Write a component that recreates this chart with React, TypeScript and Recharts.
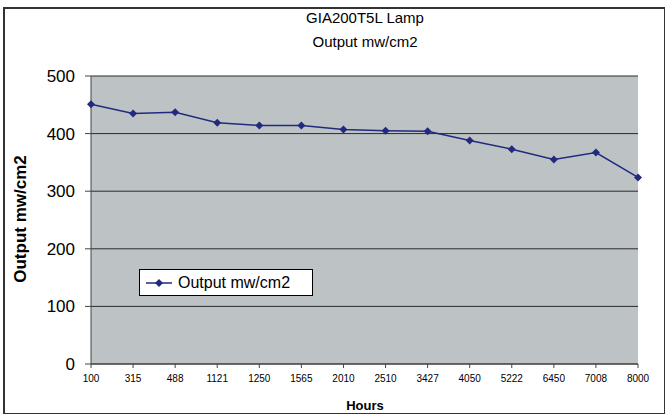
import React from 'react';
import { LineChart, Line, XAxis, YAxis, CartesianGrid, Legend } from 'recharts';

const hours = ['100', '315', '488', '1121', '1250', '1565', '2010', '2510', '3427', '4050', '5222', '6450', '7008', '8000'];
const output = [451, 435, 437, 419, 414, 414, 407, 405, 404, 388, 373, 355, 367, 324];
const yTicks = [0, 100, 200, 300, 400, 500];
const seriesName = 'Output mw/cm2';
const titleLines = ['GIA200T5L Lamp', 'Output mw/cm2'];
const xTitle = 'Hours';
const yTitle = 'Output mw/cm2';

const data = hours.map((h, i) => ({ hours: h, output: output[i] }));

const LINE = '#222a7e';
const FONT = '"Liberation Sans", Arial, sans-serif';

const Diamond = (props: any) => {
  const { cx, cy } = props;
  if (cx == null || cy == null) return null;
  const r = 4;
  return (
    <polygon
      key={`d-${cx}`}
      points={`${cx},${cy - r} ${cx + r},${cy} ${cx},${cy + r} ${cx - r},${cy}`}
      fill={LINE}
    />
  );
};

const LegendBox = () => (
  <div
    style={{
      position: 'absolute',
      left: 139,
      top: 269,
      width: 174,
      height: 27,
      border: '1px solid #000',
      background: '#fff',
      boxSizing: 'border-box',
      display: 'flex',
      alignItems: 'center',
      fontFamily: FONT,
      fontSize: 16,
      color: '#000',
    }}
  >
    <svg width={34} height={12} style={{ marginLeft: 4 }}>
      <line x1={2} y1={6} x2={28} y2={6} stroke={LINE} strokeWidth={1.5} />
      <polygon points="15,2 19,6 15,10 11,6" fill={LINE} />
    </svg>
    <span>{seriesName}</span>
  </div>
);

export default function App() {
  return (
    <div style={{ position: 'absolute', left: 0, top: 0, width: 669, height: 417, background: '#fff', fontFamily: FONT }}>
      <div
        style={{
          position: 'absolute',
          left: 3,
          top: 7,
          width: 662,
          height: 407,
          border: '1px solid #333',
          borderLeftWidth: 2,
          borderTopWidth: 2,
          boxSizing: 'border-box',
        }}
      />
      <LineChart width={669} height={417} data={data} margin={{ top: 76, right: 31, bottom: 23, left: 31 }}>
        <CartesianGrid vertical={false} stroke="#2a2a2a" fill="#bdc3c5" fillOpacity={1} />
        <XAxis
          dataKey="hours"
          height={30}
          tick={{ fontSize: 10, fill: '#000', fontFamily: FONT }}
          tickSize={4}
          tickMargin={7}
          interval={0}
          axisLine={{ stroke: '#444' }}
          tickLine={{ stroke: '#444' }}
        />
        <YAxis
          width={60}
          domain={[0, 500]}
          ticks={yTicks}
          tick={{ fontSize: 17, fill: '#000', fontFamily: FONT }}
          tickSize={6}
          tickMargin={10}
          axisLine={{ stroke: '#444' }}
          tickLine={{ stroke: '#444' }}
        />
        <Legend layout="horizontal" verticalAlign="middle" align="center" content={() => <LegendBox />} wrapperStyle={{ left: 0, top: 0, width: 0, height: 0 }} />
        <Line
          type="linear"
          dataKey="output"
          name={seriesName}
          stroke={LINE}
          strokeWidth={1.5}
          dot={<Diamond />}
          activeDot={false}
          isAnimationActive={false}
        />
      </LineChart>
      <div style={{ position: 'absolute', left: 365, top: 6, transform: 'translateX(-50%)', textAlign: 'center', fontSize: 15, lineHeight: '24px', whiteSpace: 'nowrap', color: '#000' }}>
        {titleLines.map((t) => (
          <div key={t}>{t}</div>
        ))}
      </div>
      <div style={{ position: 'absolute', left: 21, top: 219, transform: 'translate(-50%, -50%) rotate(-90deg)', fontSize: 17, fontWeight: 'bold', whiteSpace: 'nowrap', color: '#000' }}>
        {yTitle}
      </div>
      <div style={{ position: 'absolute', left: 365, top: 405, transform: 'translate(-50%, -50%)', fontSize: 13, fontWeight: 'bold', whiteSpace: 'nowrap', color: '#000' }}>
        {xTitle}
      </div>
    </div>
  );
}
